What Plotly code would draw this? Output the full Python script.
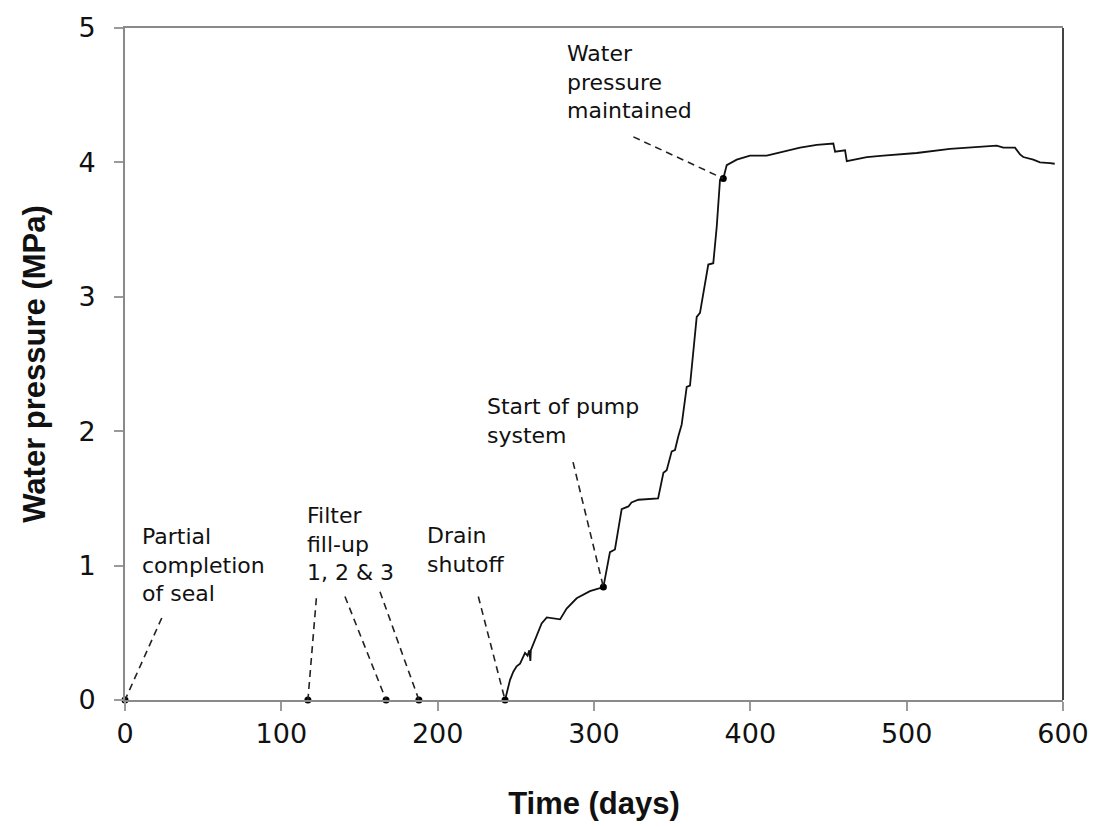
import plotly.graph_objects as go

# ---- data ----
time_days = [243.1, 246.3, 248.4, 250.5, 252.7, 254.5, 255.9, 257.5, 258.6, 259.3, 259.6,
             266.5, 269.8, 278.3, 282.5, 288.9, 297.4, 306.0, 310.2, 313.4, 315.6, 317.7,
             322.0, 324.0, 328.4, 341.0, 344.4, 346.5, 349.7, 351.8, 353.9, 356.1, 359.3,
             361.4, 365.7, 367.8, 373.1, 376.3, 378.5, 380.6, 382.7, 384.9, 391.3, 399.8,
             410.5, 421.1, 431.8, 442.5, 453.1, 454.2, 460.6, 461.7, 474.5, 485.1, 506.4,
             527.7, 549.1, 557.6, 561.8, 569.3, 572.5, 574.6, 581.0, 585.3, 591.7, 594.7]
pressure_mpa = [0.0, 0.15, 0.21, 0.25, 0.27, 0.31, 0.35, 0.33, 0.37, 0.29, 0.37,
                0.57, 0.615, 0.60, 0.68, 0.757, 0.81, 0.84, 1.10, 1.12, 1.27, 1.42,
                1.44, 1.47, 1.49, 1.50, 1.69, 1.71, 1.85, 1.86, 1.96, 2.05, 2.33,
                2.34, 2.85, 2.88, 3.24, 3.25, 3.52, 3.87, 3.88, 3.98, 4.02, 4.05,
                4.05, 4.08, 4.11, 4.13, 4.14, 4.08, 4.09, 4.01, 4.04, 4.05, 4.07,
                4.10, 4.12, 4.125, 4.11, 4.11, 4.06, 4.04, 4.02, 4.00, 3.995, 3.99]

event_days = [0, 117, 167, 188, 243.1, 306.0, 382.7]
event_pressure = [0, 0, 0, 0, 0, 0.84, 3.88]

labels = ["Partial<br>completion<br>of seal", "Filter<br>fill-up<br>1, 2 & 3",
          "Drain<br>shutoff", "Start of pump<br>system", "Water<br>pressure<br>maintained"]
label_x = [9.4, 115.0, 191.8, 230.2, 281.3]
label_y = [1.005, 1.16, 1.117, 2.077, 4.60]

leader_start_x = [23.5, 122.4, 140.7, 163.1, 226.0, 286.6, 325.2]
leader_start_y = [0.61, 0.757, 0.77, 0.806, 0.77, 1.77, 4.19]

x_ticks = [0, 100, 200, 300, 400, 500, 600]
y_ticks = [0, 1, 2, 3, 4, 5]

FONT = "Arial, Liberation Sans, sans-serif"
WIDE = "DejaVu Sans, sans-serif"

fig = go.Figure()
fig.add_trace(go.Scatter(x=time_days, y=pressure_mpa, mode="lines",
                         line=dict(color="#111111", width=1.8), showlegend=False))
fig.add_trace(go.Scatter(x=event_days, y=event_pressure, mode="markers",
                         marker=dict(color="#000000", size=7), showlegend=False,
                         cliponaxis=False))

for sx, sy, ex, ey in zip(leader_start_x, leader_start_y, event_days, event_pressure):
    fig.add_shape(type="line", x0=sx, y0=sy, x1=ex, y1=ey, xref="x", yref="y",
                  line=dict(color="#222222", width=1.6, dash="7px,5px"))

for t, x, y in zip(labels, label_x, label_y):
    fig.add_annotation(text=t, x=x, y=y, xref="x", yref="y", showarrow=False,
                       xanchor="left", yanchor="middle", align="left",
                       font=dict(family=WIDE, size=22, color="#111111"))

# right frame line (darker)
fig.add_shape(type="line", x0=1, x1=1, y0=0, y1=1, xref="paper", yref="paper",
              line=dict(color="#444444", width=2))

fig.update_layout(
    width=1093, height=827,
    margin=dict(l=125, r=30, t=28, b=127, autoexpand=False),
    plot_bgcolor="white", paper_bgcolor="white",
    font=dict(family=FONT, color="#111111"),
)
fig.update_xaxes(range=[0, 600], tickvals=x_ticks, showgrid=False, zeroline=False,
                 automargin=False,
                 showline=True, linecolor="#8a8a8a", linewidth=2, mirror=True,
                 ticks="outside", ticklen=9, tickwidth=2, tickcolor="#9a9a9a",
                 tickfont=dict(size=27, family=WIDE, color="#111111"),
                 title=dict(text="<b>Time (days)</b>", font=dict(size=31, family=FONT, color="#111111"),
                            standoff=44))
fig.update_yaxes(range=[0, 5], tickvals=y_ticks, showgrid=False, zeroline=False,
                 automargin=False,
                 showline=True, linecolor="#8a8a8a", linewidth=2,
                 ticks="outside", ticklen=9, tickwidth=2, tickcolor="#9a9a9a",
                 ticklabelstandoff=13,
                 tickfont=dict(size=27, family=WIDE, color="#111111"),
                 title=dict(text="<b>Water pressure (MPa)</b>", font=dict(size=31, family=FONT, color="#111111"),
                            standoff=24))

fig.write_html("out.html", config={"displayModeBar": False},
               post_script="document.body.style.margin='0';document.body.style.overflow='hidden';")
